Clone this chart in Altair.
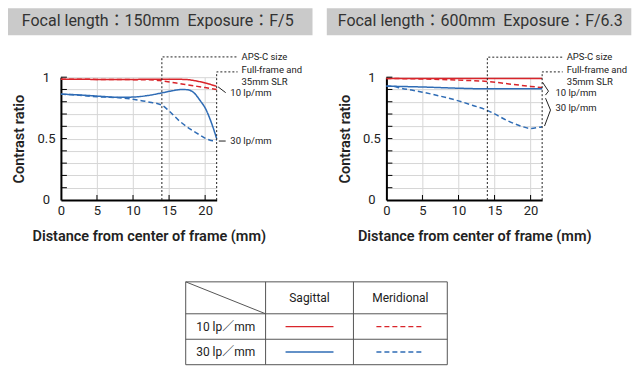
import altair as alt
import pandas as pd

# ------------------------------------------------------------------ data
series_names = ["Sagittal 10 lp/mm", "Meridional 10 lp/mm",
                "Sagittal 30 lp/mm", "Meridional 30 lp/mm"]

left_title = "Focal length：150mm\u00a0\u00a0Exposure：F/5"
right_title = "Focal length：600mm\u00a0\u00a0Exposure：F/6.3"

# left panel (150 mm)
left_s10_x = [0, 5, 10, 14, 17, 17.6, 18.5, 19.5, 20.5, 21.6]
left_s10_y = [0.984, 0.982, 0.982, 0.983, 0.982, 0.98, 0.972, 0.96, 0.945, 0.925]
left_m10_x = [0, 5, 10, 13, 14, 16, 17.6, 20, 21.6]
left_m10_y = [0.984, 0.982, 0.98, 0.977, 0.97, 0.952, 0.937, 0.915, 0.9]
left_s30_x = [0, 2, 4, 6, 8, 10, 12, 14, 15.5, 16.8, 17.6, 18.5, 19.3, 20, 20.8, 21.6]
left_s30_y = [0.862, 0.857, 0.85, 0.842, 0.836, 0.838, 0.85, 0.872, 0.89, 0.9,
              0.897, 0.87, 0.81, 0.75, 0.64, 0.5]
left_m30_x = [0, 2, 4, 6, 8, 10, 12, 14, 15, 16.5, 18, 19.3, 20.3, 21.1, 21.6]
left_m30_y = [0.862, 0.855, 0.845, 0.838, 0.833, 0.82, 0.8, 0.772, 0.725, 0.64,
              0.575, 0.528, 0.495, 0.482, 0.49]

# right panel (600 mm)
right_s10_x = [0, 5, 10, 14, 18, 21.6]
right_s10_y = [0.99, 0.99, 0.99, 0.99, 0.99, 0.99]
right_m10_x = [0, 5, 10, 14, 17, 20, 21.6]
right_m10_y = [0.99, 0.985, 0.976, 0.965, 0.945, 0.925, 0.915]
right_s30_x = [0, 5, 10, 14, 18, 21.6]
right_s30_y = [0.927, 0.92, 0.91, 0.905, 0.905, 0.905]
right_m30_x = [0, 1, 2, 3.5, 5, 7.5, 10, 12, 14, 15.5, 17, 18.5, 20, 21, 21.6]
right_m30_y = [0.928, 0.925, 0.91, 0.895, 0.878, 0.845, 0.807, 0.77, 0.73, 0.685,
               0.64, 0.605, 0.583, 0.59, 0.597]

x_tick_values = [0, 5, 10, 15, 20]
y_tick_values = [0, 0.1, 0.2, 0.3, 0.4, 0.5, 0.6, 0.7, 0.8, 0.9, 1.0]
aps_c_edge = 14
full_frame_edge = 21.6

table_rows = ["10 lp／mm", "30 lp／mm"]
table_cols = ["Sagittal", "Meridional"]

# ------------------------------------------------------------------ style
RED = "#d9252b"
BLUE = "#2f6cb5"
FONT = "Roboto, 'Noto Sans CJK JP', sans-serif"
W, H = 156, 123
XMAX = 21.6


def curves_frame(sets):
    rows = []
    for name, xs, ys in sets:
        for x, v in zip(xs, ys):
            rows.append({"x": x, "v": v, "s": name})
    return pd.DataFrame(rows)


def poly_frame(polys):
    rows = []
    for g, pts in enumerate(polys):
        for i, (x, v) in enumerate(pts):
            rows.append({"x": x, "v": v, "g": g, "i": i})
    return pd.DataFrame(rows)


X_AXIS = alt.Axis(values=x_tick_values, grid=True, gridColor="#d6d6d6",
                  domainColor="black", domainWidth=2, ticks=False, tickSize=0,
                  labelPadding=5, labelFontSize=13, labelColor="#222",
                  labelFlush=False, labelOverlap=False,
                  title="Distance from center of frame (mm)",
                  titleFontSize=14.5, titleFontWeight=600, titleColor="#222",
                  titleX=88, titleY=41, titleBaseline="alphabetic",
                  titleAlign="center")
Y_AXIS = alt.Axis(values=y_tick_values, grid=True, gridColor="#d6d6d6",
                  domainColor="black", domainWidth=2, ticks=False, tickSize=0,
                  labelPadding=15, labelAlign="center", labelBaseline="middle",
                  labelFontSize=13, labelColor="#222", labelOverlap=False,
                  labelFlush=False,
                  labelExpr="datum.value == 0 ? '0' : (datum.value == 1 ? '1' : (abs(datum.value - 0.5) < 0.001 ? '0.5' : ''))",
                  title="Contrast ratio", titleFontSize=14.5, titleFontWeight=600,
                  titleColor="#222", titleAngle=270, titleX=-41, titleY=H / 2,
                  titleAlign="center", titleBaseline="middle")


def panel(title, sets, ann, bar_px, title_cx):
    xs = alt.Scale(domain=[0, XMAX], nice=False, zero=False)
    ys = alt.Scale(domain=[0, 1], nice=False, zero=False)
    X = lambda f: alt.X(f, scale=xs, axis=X_AXIS)
    Y = lambda f: alt.Y(f, scale=ys, axis=Y_AXIS)

    df = curves_frame(sets)
    lines = alt.Chart(df).mark_line(interpolate="monotone", strokeWidth=1.5).encode(
        x=X("x:Q"), y=Y("v:Q"),
        color=alt.Color("s:N", scale=alt.Scale(domain=series_names,
                                               range=[RED, RED, BLUE, BLUE]), legend=None),
        strokeDash=alt.StrokeDash("s:N", scale=alt.Scale(domain=series_names,
                                  range=[[1, 0], [5, 3], [1, 0], [5, 3]]), legend=None),
    )

    dotted = alt.Chart(poly_frame(ann["dotted"])).mark_line(
        color="#222", strokeWidth=1, strokeDash=[2, 2]).encode(
        x=X("x:Q"), y=Y("v:Q"), detail="g:N", order="i:Q")

    pointers = alt.Chart(poly_frame(ann["pointers"])).mark_line(
        color="#222", strokeWidth=1).encode(
        x=X("x:Q"), y=Y("v:Q"), detail="g:N", order="i:Q")

    ytk = alt.Chart(pd.DataFrame({"v": y_tick_values[1:]})).mark_rule(
        color="black", strokeWidth=1).encode(
        y=Y("v:Q"), x=alt.value(0), x2=alt.value(6))
    xtk = alt.Chart(pd.DataFrame({"x": x_tick_values[1:]})).mark_rule(
        color="black", strokeWidth=1).encode(
        x=X("x:Q"), y=alt.value(H), y2=alt.value(H - 5))

    labels = alt.Chart(pd.DataFrame(ann["labels"], columns=["x", "v", "t"])).mark_text(
        align="left", baseline="middle", fontSize=9.5, color="#222").encode(
        x=X("x:Q"), y=Y("v:Q"), text="t:N")

    bar = alt.Chart(pd.DataFrame({"t": [title]})).mark_rect(color="#cacaca").encode(
        x=alt.value(bar_px[0]), x2=alt.value(bar_px[1]),
        y=alt.value(-69), y2=alt.value(-42))
    ttl = alt.Chart(pd.DataFrame({"t": [title]})).mark_text(
        fontSize=16, color="#333", align="center", baseline="middle").encode(
        x=alt.value(title_cx), y=alt.value(-56.5), text="t:N")

    return alt.layer(lines, bar, ttl, dotted, ytk, xtk, pointers, labels).properties(
        width=W, height=H)


left_ann = {
    "dotted": [[(aps_c_edge, 0), (aps_c_edge, 1.165), (24.5, 1.165)],
               [(full_frame_edge, 0), (full_frame_edge, 1.043), (24.5, 1.043)]],
    "pointers": [[(21.8, 0.921), (22.85, 0.874)],
                 [(21.9, 0.48), (22.85, 0.48)]],
    "labels": [(25.05, 1.165, "APS-C size"),
               (25.05, 1.056, "Full-frame and"),
               (25.05, 0.964, "35mm SLR"),
               (23.5, 0.872, "10 lp/mm"),
               (23.5, 0.48, "30 lp/mm")],
}
right_ann = {
    "dotted": [[(aps_c_edge, 0), (aps_c_edge, 1.163), (24.45, 1.163)],
               [(full_frame_edge, 0), (full_frame_edge, 1.043), (24.45, 1.043)]],
    "pointers": [[(21.65, 0.959), (22.48, 0.886), (22.06, 0.854)],
                 [(22.07, 0.829), (22.76, 0.732), (21.93, 0.602)]],
    "labels": [(25.0, 1.163, "APS-C size"),
               (25.0, 1.056, "Full-frame and"),
               (25.0, 0.964, "35mm SLR"),
               (23.45, 0.87, "10 lp/mm"),
               (23.45, 0.748, "30 lp/mm")],
}

left = panel(left_title,
             [(series_names[0], left_s10_x, left_s10_y),
              (series_names[1], left_m10_x, left_m10_y),
              (series_names[2], left_s30_x, left_s30_y),
              (series_names[3], left_m30_x, left_m30_y)],
             left_ann, (-53, 252), 97)
right = panel(right_title,
              [(series_names[0], right_s10_x, right_s10_y),
               (series_names[1], right_m10_x, right_m10_y),
               (series_names[2], right_s30_x, right_s30_y),
               (series_names[3], right_m30_x, right_m30_y)],
              right_ann, (-59.7, 245.3), 94)

# ------------------------------------------------------------------ legend table
col_edges = [186, 266, 354, 448]
row_edges = [281, 313, 338.5, 364]
TX = alt.Scale(domain=[61, 632], nice=False, zero=False)
TY = alt.Scale(domain=[281, 364], reverse=True, nice=False, zero=False)

grid_rows = []
for yv in row_edges:
    grid_rows.append({"x": col_edges[0], "x2": col_edges[-1], "y": yv, "y2": yv})
for xv in col_edges:
    grid_rows.append({"x": xv, "x2": xv, "y": row_edges[0], "y2": row_edges[-1]})
grid_rows.append({"x": col_edges[0], "x2": col_edges[1], "y": row_edges[0], "y2": row_edges[1]})
tgrid = alt.Chart(pd.DataFrame(grid_rows)).mark_rule(color="#555", strokeWidth=1).encode(
    x=alt.X("x:Q", scale=TX, axis=None), x2="x2:Q",
    y=alt.Y("y:Q", scale=TY, axis=None), y2="y2:Q")

txt_rows = []
for j, c in enumerate(table_cols):
    txt_rows.append({"x": (col_edges[j + 1] + col_edges[j + 2]) / 2,
                     "y": (row_edges[0] + row_edges[1]) / 2, "t": c})
for i, r in enumerate(table_rows):
    txt_rows.append({"x": (col_edges[0] + col_edges[1]) / 2,
                     "y": (row_edges[i + 1] + row_edges[i + 2]) / 2, "t": r})
ttext = alt.Chart(pd.DataFrame(txt_rows)).mark_text(
    fontSize=12, color="#222", align="center", baseline="middle").encode(
    x=alt.X("x:Q", scale=TX, axis=None), y=alt.Y("y:Q", scale=TY, axis=None), text="t:N")

samp_rows = []
k = 0
for i, r in enumerate(table_rows):
    for j, c in enumerate(table_cols):
        cx = (col_edges[j + 1] + col_edges[j + 2]) / 2
        samp_rows.append({"x": cx - 24, "x2": cx + 24,
                          "y": (row_edges[i + 1] + row_edges[i + 2]) / 2,
                          "s": series_names[k]})
        k += 1
tsamp = alt.Chart(pd.DataFrame(samp_rows)).mark_rule(strokeWidth=1.3).encode(
    x=alt.X("x:Q", scale=TX, axis=None), x2="x2:Q",
    y=alt.Y("y:Q", scale=TY, axis=None),
    color=alt.Color("s:N", scale=alt.Scale(domain=series_names,
                                           range=[RED, RED, BLUE, BLUE]), legend=None),
    strokeDash=alt.StrokeDash("s:N", scale=alt.Scale(domain=series_names,
                              range=[[1, 0], [5, 4], [1, 0], [5, 4]]), legend=None))

table = alt.layer(tgrid, tsamp, ttext).properties(width=571, height=83)

chart = alt.vconcat(alt.hconcat(left, right, spacing=14), table, spacing=37).properties(
    padding=0).configure(font=FONT).configure_view(stroke=None)

chart.save("out.html", embed_options={"renderer": "svg", "actions": False})
